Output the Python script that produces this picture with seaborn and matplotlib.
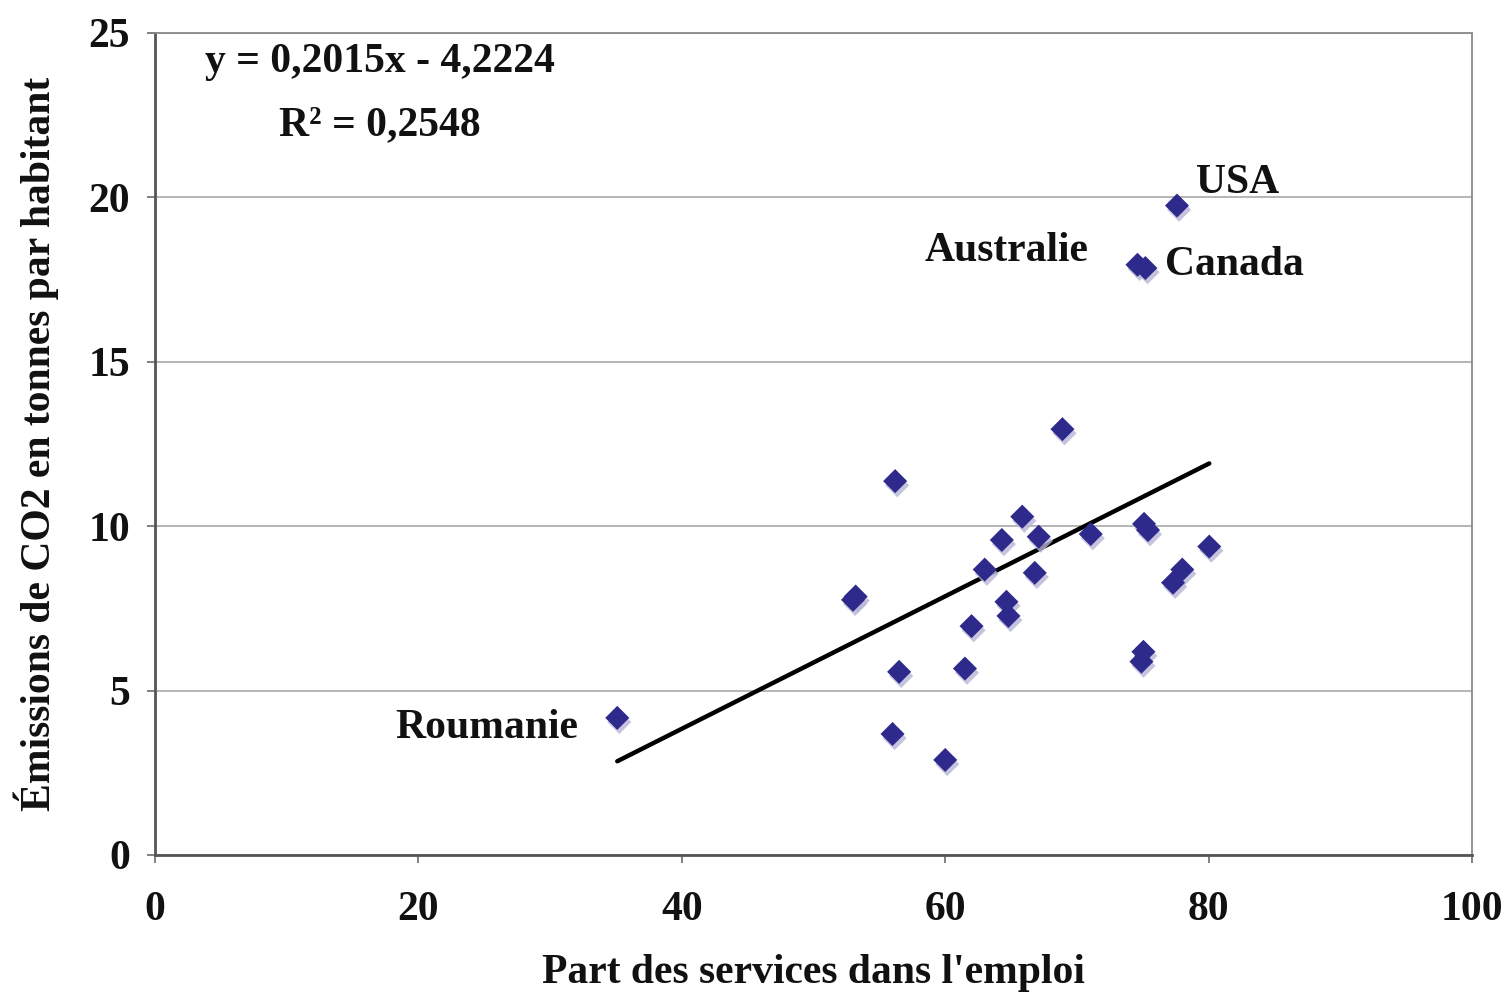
import numpy as np
import pandas as pd
import matplotlib
matplotlib.use("Agg")
import matplotlib.pyplot as plt
import matplotlib.patheffects as pe
import seaborn as sns

# Data
services = [35.1, 74.6, 75.2, 77.6,
            68.9, 56.2, 65.85, 64.3, 67.1, 71.05, 75.1, 75.4, 80.05, 63.0,
            66.8, 78.0, 77.3, 53.2, 53.0, 64.65, 64.8, 62.0, 56.5, 61.5,
            75.05, 74.9, 56.0, 60.0]
emissions = [4.17, 17.95, 17.85, 19.75,
             12.95, 11.37, 10.29, 9.58, 9.68, 9.76, 10.07, 9.88, 9.38, 8.68,
             8.58, 8.68, 8.28, 7.86, 7.76, 7.70, 7.27, 6.96, 5.57, 5.67,
             6.18, 5.88, 3.68, 2.89]
countries = ["Roumanie", "Australie", "Canada", "USA"] + [""] * 24

slope = 0.2015
intercept = -4.2224
r2 = 0.2548

df = pd.DataFrame({"x": services, "y": emissions, "pays": countries})

sns.set_theme(style="white")
plt.rcParams["font.family"] = ["Liberation Serif", "DejaVu Serif"]
plt.rcParams["font.weight"] = "bold"
plt.rcParams["text.color"] = "#111111"
plt.rcParams["xtick.color"] = "#111111"
plt.rcParams["ytick.color"] = "#111111"
plt.rcParams["axes.labelcolor"] = "#111111"

FS = 30

fig = plt.figure(figsize=(15.09, 9.96), dpi=100)
ax = fig.add_axes([0.1027, 0.1416, 0.9755 - 0.1027, 0.9669 - 0.1416])

# Trend line
xs = np.array([min(services), max(services)])
trend = pd.DataFrame({"x": xs, "y": slope * xs + intercept})
sns.lineplot(data=trend, x="x", y="y", ax=ax, color="black", linewidth=3.2, zorder=3)

# Scatter with shadow
sns.scatterplot(data=df, x="x", y="y", ax=ax, marker="D", s=150,
                color="#2e2a8c", edgecolor="none", zorder=4)
for coll in ax.collections:
    coll.set_path_effects([pe.SimplePatchShadow(offset=(1.5, -3), shadow_rgbFace="#b8b4d8", alpha=0.8),
                           pe.Normal()])

ax.set_xlim(0, 100)
ax.set_ylim(0, 25)
ax.set_xticks([0, 20, 40, 60, 80, 100])
ax.set_yticks([0, 5, 10, 15, 20, 25])
ax.yaxis.grid(True, color="#b0b0b0", linewidth=1.3)
ax.xaxis.grid(False)
ax.set_axisbelow(True)

for side in ["top", "right"]:
    ax.spines[side].set_color("#8a8a8a")
    ax.spines[side].set_linewidth(1.3)
for side in ["left", "bottom"]:
    ax.spines[side].set_color("#555555")
    ax.spines[side].set_linewidth(2)

ax.tick_params(axis="both", which="major", labelsize=FS, length=6, width=1.3,
               color="#777777", direction="out", left=True, bottom=True,
               labelcolor="#111111")
ax.tick_params(axis="x", pad=20)
ax.tick_params(axis="y", pad=12)
for lab in ax.get_xticklabels() + ax.get_yticklabels():
    lab.set_fontweight("bold")

ax.set_xlabel("Part des services dans l'emploi", fontsize=FS, fontweight="bold", labelpad=18)
ax.set_ylabel("Émissions de CO2 en tonnes par habitant", fontsize=FS, fontweight="bold")

# Country labels
offsets = {"Roumanie": (-28, -7, "right"), "Australie": (-35, 10, "right"),
           "Canada": (14, 2, "left"), "USA": (14, 16, "left")}
for xv, yv, name in zip(services, emissions, countries):
    if name:
        dx, dy, ha = offsets[name]
        ax.annotate(name, xy=(xv, yv), xytext=(dx, dy), textcoords="offset points",
                    ha=ha, va="center", fontsize=FS, fontweight="bold")

ax.text(0.171, 0.965, f"y = {slope:.4f}x - {abs(intercept):.4f}".replace(".", ","),
        transform=ax.transAxes, ha="center", va="center", fontsize=FS, fontweight="bold")
ax.text(0.171, 0.888, f"R² = {r2:.4f}".replace(".", ","),
        transform=ax.transAxes, ha="center", va="center", fontsize=FS, fontweight="bold")

ax.yaxis.set_label_coords(-0.073, 0.5)

fig.savefig("out.png", dpi=100)
